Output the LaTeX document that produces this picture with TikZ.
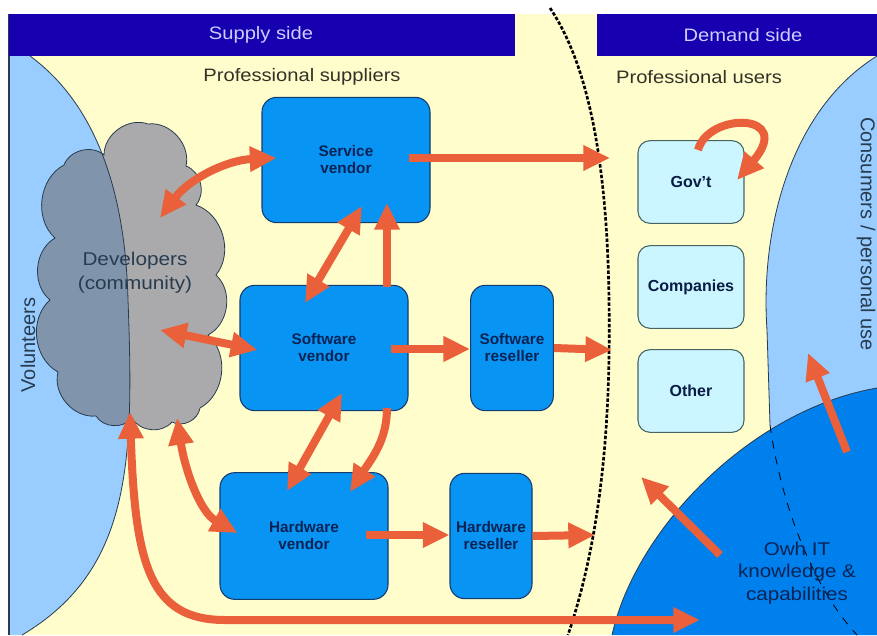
\documentclass[tikz,border=0pt]{standalone}
\usepackage{fontspec}
\setmainfont{Liberation Sans}
\newfontfamily\labf[FakeStretch=1.12]{Liberation Sans}
\usetikzlibrary{arrows.meta,calc}
\definecolor{bgyellow}{RGB}{255,253,204}
\definecolor{barblue}{RGB}{22,0,176}
\definecolor{bartext}{RGB}{205,205,255}
\definecolor{lblue}{RGB}{153,204,255}
\definecolor{dblue}{RGB}{0,128,236}
\definecolor{boxblue}{RGB}{8,148,242}
\definecolor{boxline}{RGB}{20,60,110}
\definecolor{boxtext}{RGB}{10,35,85}
\definecolor{cyanbox}{RGB}{204,246,255}
\definecolor{cyanline}{RGB}{70,100,100}
\definecolor{arrowc}{RGB}{234,96,58}
\definecolor{cloudl}{RGB}{170,170,172}
\definecolor{cloudd}{RGB}{128,148,172}
\definecolor{edgec}{RGB}{40,60,80}
\definecolor{labtext}{RGB}{50,50,40}
\tikzset{
  arr/.style={draw=arrowc, line width=6pt, -{Triangle[length=20pt,width=18pt]}},
  darr/.style={draw=arrowc, line width=6pt, {Triangle[length=20pt,width=18pt]}-{Triangle[length=20pt,width=18pt]}},
  vbox/.style={draw=boxline, line width=0.8pt, fill=boxblue, rounded corners=11pt, align=center,
    font=\bfseries\fontsize{11.5}{12.75}\selectfont, text=boxtext, inner sep=0pt},
  ubox/.style={draw=cyanline, line width=0.8pt, fill=cyanbox, rounded corners=9pt, align=center,
    font=\bfseries\fontsize{12}{13}\selectfont, text=boxtext!80!black, inner sep=0pt,
    minimum width=79.5pt, minimum height=62pt},
  bartxt/.style={text=bartext, font=\labf\fontsize{13.5}{15}\selectfont},
  grouptxt/.style={text=labtext, font=\labf\fontsize{13.5}{15}\selectfont},
  sidetxt/.style={text=edgec, font=\fontsize{15}{17}\selectfont},
  volp/.style={insert path={(9,56) -- (30,56) .. controls (90,100) and (125,180) .. (128,300)
      .. controls (134,460) and (132,570) .. (22,635) -- (9,635) -- cycle}},
  cloudp/.style={insert path={(64,165) to[bend left=55] (104,155) to[bend left=55] (148,124)
      to[bend left=55] (186,166) to[bend left=55] (196,205) to[bend left=55] (216,275)
      to[bend left=55] (208,335) to[bend left=55] (200,408) to[bend left=55] (172,422)
      to[bend left=55] (132,418) to[bend left=55] (96,416) to[bend left=55] (58,372)
      to[bend left=55] (50,300) to[bend left=55] (55,238) to[bend left=55] (64,165) -- cycle}},
}
\begin{document}
\begin{tikzpicture}[x=0.75pt,y=-0.75pt]
\useasboundingbox (0,0) rectangle (877,635);
\fill[white] (0,0) rectangle (877,635);
\fill[bgyellow] (9,14) rectangle (877,635);
% volunteers region
\fill[lblue, volp];
\draw[edgec, line width=0.6pt] (30,56) .. controls (90,100) and (125,180) .. (128,300)
      .. controls (134,460) and (132,570) .. (22,635);
\draw[edgec, line width=1pt] (9,14) -- (9,635);
% consumers region
\fill[lblue] (877,56) .. controls (790,110) and (760,230) .. (767,330) -- (770,425)
   .. controls (782,510) and (815,590) .. (857,635) -- (877,635) -- cycle;
\draw[edgec, line width=0.6pt] (877,56) .. controls (790,110) and (760,230) .. (767,330) -- (770,425);
% own IT region
\fill[dblue] (612,635) .. controls (635,530) and (750,410) .. (877,388) -- (877,635) -- cycle;
\draw[edgec, line width=0.6pt] (612,635) .. controls (635,530) and (750,410) .. (877,388);
\draw[black, line width=0.6pt, dash pattern=on 6pt off 6pt] (770,425) .. controls (782,510) and (815,590) .. (857,635);
% header bars
\fill[barblue] (9,14) rectangle (515,56);
\fill[barblue] (597,14) rectangle (877,56);
\node[bartxt] (supply) at (261,35) {Supply side};
\node[bartxt] (demand) at (743,35) {Demand side};
% dotted divider
\draw[black, line width=2pt, dash pattern=on 2.6pt off 1.4pt]
  (550,8) .. controls (585,60) and (607,150) .. (609,300) .. controls (611,430) and (600,540) .. (568,635);
% cloud
\fill[cloudl, cloudp];
\begin{scope}
  \clip[volp];
  \fill[cloudd, cloudp];
\end{scope}
\begin{scope}
  \clip[cloudp];
  \draw[edgec, line width=0.6pt] (30,56) .. controls (90,100) and (125,180) .. (128,300)
      .. controls (134,460) and (132,570) .. (22,635);
\end{scope}
\draw[edgec, line width=0.6pt, cloudp];
\node[text=edgec, align=center, font=\labf\fontsize{13.9}{18}\selectfont] (dev) at (135,273) {Developers\\(community)};
% labels
\node[grouptxt] (psup) at (302,77) {Professional suppliers};
\node[grouptxt] (puse) at (699,77) {Professional users};
\node[sidetxt, rotate=90] (vol) at (28,345) {Volunteers};
\node[sidetxt, rotate=-90] (cons) at (866,234) {Consumers / personal use};
\node[text=boxtext, align=center, font=\labf\fontsize{13.8}{17}\selectfont] (own) at (797,573) {Owh IT\\knowledge \&\\capabilities};
% boxes
\node[vbox, minimum width=126pt, minimum height=94pt] (svc) at (346,160) {Service\\vendor};
\node[vbox, minimum width=126pt, minimum height=94pt] (swv) at (324,348) {Software\\vendor};
\node[vbox, minimum width=62pt, minimum height=94pt] (swr) at (512,348) {Software\\reseller};
\node[vbox, minimum width=126pt, minimum height=95pt] (hwv) at (304,536) {Hardware\\vendor};
\node[vbox, minimum width=61.5pt, minimum height=94pt] (hwr) at (491,536) {Hardware\\reseller};
\node[ubox] (gov) at (691,182) {Gov't};
\node[ubox] (com) at (691,287) {Companies};
\node[ubox] (oth) at (691,391) {Other};
% free ends
\coordinate (d1) at (610,158);
\coordinate (d2) at (612,350);
\coordinate (d3) at (595,535);
\coordinate (bend) at (700,620);
\coordinate (ownA) at (720,555);
\coordinate (ownB) at (641,477);
\coordinate (ownC) at (847,452);
\coordinate (consA) at (808,353);
% arrows
\draw[darr] ($(dev)+(25,-55)$) .. controls (190,178) and (228,160) .. ($(svc.west)+(15,-2)$);
\draw[arr] ($(svc.east)+(-22,-2)$) -- (d1);
\draw[darr] ($(swv)+(-19,-45)$) -- ($(svc)+(16,46)$);
\draw[arr] ($(swv)+(63,-61)$) -- ($(svc)+(41,43)$);
\draw[darr] ($(dev)+(25,57)$) -- ($(swv.west)+(18,2)$);
\draw[arr] ($(swv.east)+(-18,1)$) -- ($(swr.west)+(0,1)$);
\draw[arr] (swr.east) -- (d2);
\draw[darr] ($(swv)+(18,45)$) -- ($(hwv)+(-17,-45)$);
\draw[arr] ($(swv)+(63,60)$) .. controls (387,440) and (372,458) .. ($(hwv)+(46,-44)$);
\draw[darr] ($(dev)+(42,145)$) .. controls (185,470) and (200,512) .. ($(hwv.west)+(18,-3)$);
\draw[arr] ($(hwv.east)+(-23,-1)$) -- ($(hwr.west)+(0,-1)$);
\draw[arr] (hwr.east) -- (d3);
\draw[darr] ($(dev)+(-5,139)$) .. controls (135,565) and (150,620) .. (225,620) -- (bend);
\draw[arr] ($(gov)+(7,-32)$) .. controls (708,112) and (795,112) .. ($(gov)+(46,-2)$);
\draw[arr] (ownA) -- (ownB);
\draw[arr] (ownC) -- (consA);
\end{tikzpicture}
\end{document}
